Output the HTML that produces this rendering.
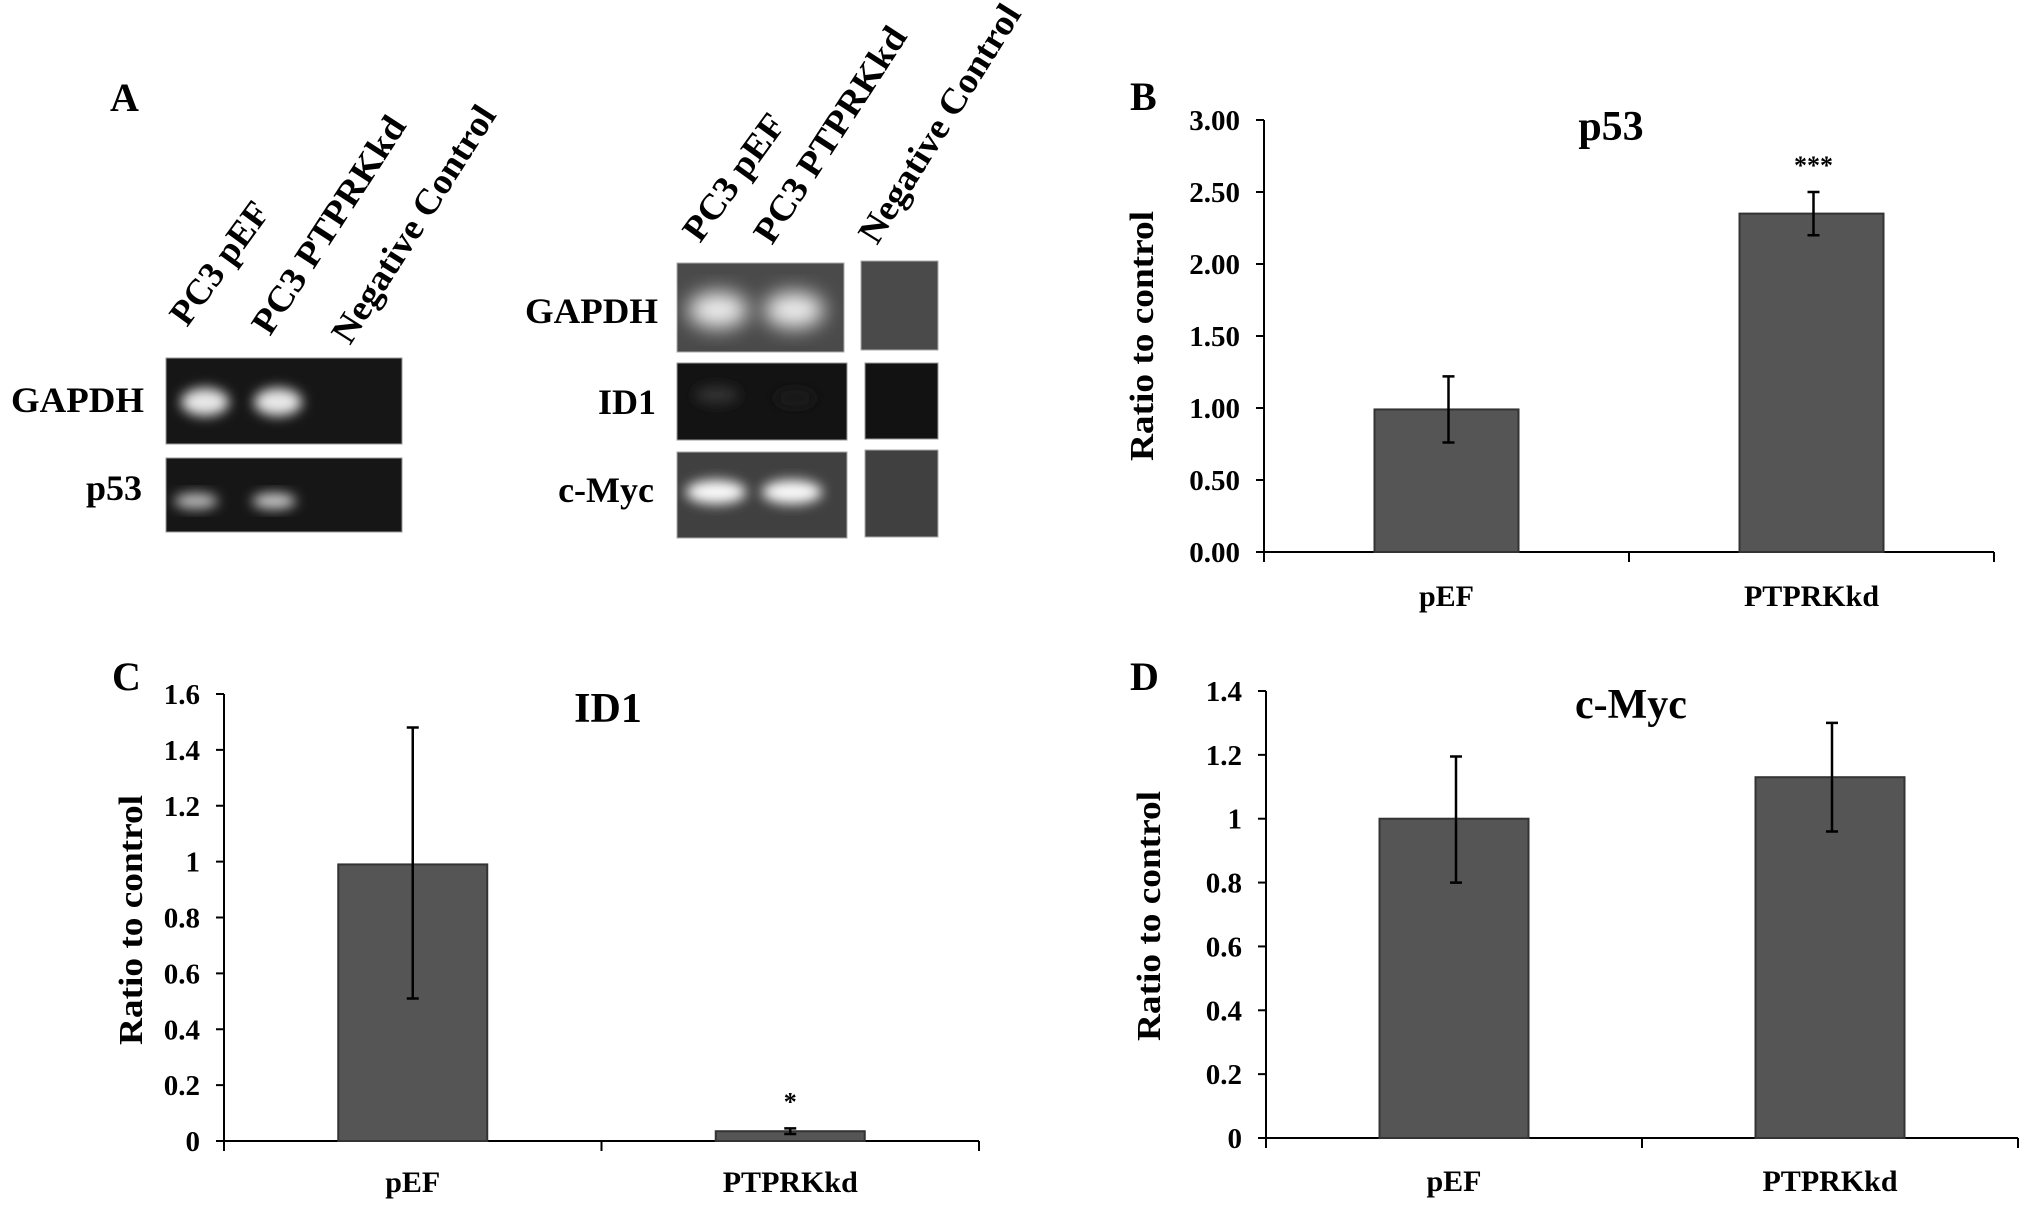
<!DOCTYPE html>
<html><head><meta charset="utf-8">
<style>
html,body{margin:0;padding:0;background:#fff;}
svg{display:block;}
text{font-family:"Liberation Serif",serif;font-weight:bold;fill:#000;}
</style></head>
<body>
<svg id="fig" width="2031" height="1207" viewBox="0 0 2031 1207" xmlns="http://www.w3.org/2000/svg">
<defs>
<filter id="blur" x="-50%" y="-50%" width="200%" height="200%"><feGaussianBlur stdDeviation="6"/></filter>
<filter id="blur2" x="-50%" y="-50%" width="200%" height="200%"><feGaussianBlur stdDeviation="10"/></filter>
</defs>

<!-- Panel A -->
<g>
<text x="110" y="111" font-size="40">A</text>
<text transform="translate(187,328) rotate(-54)" font-size="36" textLength="143" lengthAdjust="spacingAndGlyphs">PC3 pEF</text>
<text transform="translate(270,337) rotate(-57)" font-size="36" textLength="252" lengthAdjust="spacingAndGlyphs">PC3 PTPRKkd</text>
<text transform="translate(350,346) rotate(-57.5)" font-size="36" textLength="274" lengthAdjust="spacingAndGlyphs">Negative Control</text>

<text x="144" y="412" font-size="36" text-anchor="end" textLength="133" lengthAdjust="spacingAndGlyphs">GAPDH</text>
<text x="142" y="500" font-size="36" text-anchor="end">p53</text>

<g>
<rect x="166" y="358" width="236" height="86" fill="#161616" stroke="#999" stroke-width="1"/>
<ellipse cx="205" cy="402" rx="24" ry="14" fill="#e8e8e8" filter="url(#blur)"/>
<ellipse cx="278" cy="402" rx="24" ry="14" fill="#e8e8e8" filter="url(#blur)"/>
</g>
<g>
<rect x="166" y="458" width="236" height="74" fill="#161616" stroke="#999" stroke-width="1"/>
<ellipse cx="196" cy="501" rx="22" ry="8" fill="#bbb" filter="url(#blur)"/>
<ellipse cx="274" cy="501" rx="22" ry="8" fill="#ccc" filter="url(#blur)"/>
</g>

<text transform="translate(700,244) rotate(-54)" font-size="36" textLength="148" lengthAdjust="spacingAndGlyphs">PC3 pEF</text>
<text transform="translate(772,246) rotate(-57)" font-size="36" textLength="250" lengthAdjust="spacingAndGlyphs">PC3 PTPRKkd</text>
<text transform="translate(877,246) rotate(-58)" font-size="36" textLength="274" lengthAdjust="spacingAndGlyphs">Negative Control</text>

<text x="658" y="323" font-size="36" text-anchor="end" textLength="133" lengthAdjust="spacingAndGlyphs">GAPDH</text>
<text x="656" y="414" font-size="36" text-anchor="end">ID1</text>
<text x="654" y="502" font-size="36" text-anchor="end">c-Myc</text>

<g>
<rect x="677" y="263" width="167" height="89" fill="#4a4a4a" stroke="#aaa" stroke-width="1"/>
<ellipse cx="718" cy="310" rx="30" ry="18" fill="#eee" filter="url(#blur2)"/>
<ellipse cx="794" cy="310" rx="30" ry="18" fill="#eee" filter="url(#blur2)"/>
<rect x="861" y="261" width="77" height="89" fill="#4a4a4a" stroke="#aaa" stroke-width="1"/>
</g>
<g>
<rect x="677" y="363" width="170" height="77" fill="#131313" stroke="#999" stroke-width="1"/>
<ellipse cx="717" cy="395" rx="22" ry="9" fill="#333" filter="url(#blur)"/>
<ellipse cx="795" cy="398" rx="20" ry="8" fill="#1f1f1f" filter="url(#blur)"/>
<rect x="865" y="363" width="73" height="76" fill="#121212" stroke="#999" stroke-width="1"/>
</g>
<g>
<rect x="677" y="452" width="170" height="86" fill="#404040" stroke="#aaa" stroke-width="1"/>
<ellipse cx="716" cy="492" rx="30" ry="12" fill="#fafafa" filter="url(#blur)"/>
<ellipse cx="792" cy="492" rx="30" ry="12" fill="#fafafa" filter="url(#blur)"/>
<rect x="865" y="450" width="73" height="87" fill="#404040" stroke="#aaa" stroke-width="1"/>
</g>
</g>

<g id="chartB"></g>
<g id="chartC"></g>
<g id="chartD"></g>
</svg>

<script>
var categories = ["pEF", "PTPRKkd"];

var p53Values = [0.99, 2.35];
var p53ErrLow = [0.76, 2.20];
var p53ErrHigh = [1.22, 2.50];
var p53Ticks = [0, 0.5, 1, 1.5, 2, 2.5, 3];
var p53TickLabels = ["0.00","0.50","1.00","1.50","2.00","2.50","3.00"];
var p53Sig = ["", "***"];

var id1Values = [0.99, 0.035];
var id1ErrLow = [0.51, 0.025];
var id1ErrHigh = [1.48, 0.045];
var id1Ticks = [0, 0.2, 0.4, 0.6, 0.8, 1, 1.2, 1.4, 1.6];
var id1TickLabels = ["0","0.2","0.4","0.6","0.8","1","1.2","1.4","1.6"];
var id1Sig = ["", "*"];

var mycValues = [1.0, 1.13];
var mycErrLow = [0.80, 0.96];
var mycErrHigh = [1.195, 1.30];
var mycTicks = [0, 0.2, 0.4, 0.6, 0.8, 1, 1.2, 1.4];
var mycTickLabels = ["0","0.2","0.4","0.6","0.8","1","1.2","1.4"];
var mycSig = ["", ""];

var NS = "http://www.w3.org/2000/svg";
function mk(tag, attrs, parent){
  var e = document.createElementNS(NS, tag);
  for (var k in attrs) e.setAttribute(k, attrs[k]);
  parent.appendChild(e);
  return e;
}

function drawChart(g, L, vals, lo, hi, ticks, tickLabels, sig, title){
  var yMax = ticks[ticks.length-1];
  function yS(v){ return L.y0 - (v / yMax) * (L.y0 - L.yTop); }
  var bandW = (L.xEnd - L.x0) / categories.length;
  function xC(i){ return L.x0 + bandW * (i + 0.5); }

  var ax = mk('line',{x1:L.x0,y1:L.yTop,x2:L.x0,y2:L.y0,stroke:'#000','stroke-width':2},g);
  
  
  var bx = mk('line',{x1:L.x0,y1:L.y0,x2:L.xEnd,y2:L.y0,stroke:'#000','stroke-width':2},g);
  
  

  for (var t=0;t<ticks.length;t++){
    var y = yS(ticks[t]);
    var tk = mk('line',{x1:L.x0-8,y1:y,x2:L.x0,y2:y,stroke:'#000','stroke-width':2},g);
    
    
    var tl = mk('text',{x:L.x0-24,y:y+10,'font-size':29,'text-anchor':'end'},g);
    tl.textContent = tickLabels[t];
    
    
  }
  for (var c=0;c<=categories.length;c++){
    var xx = L.x0 + bandW*c;
    var xt = mk('line',{x1:xx,y1:L.y0,x2:xx,y2:L.y0+10,stroke:'#000','stroke-width':2},g);
    
    
  }
  for (var i=0;i<categories.length;i++){
    var cx = xC(i);
    var top = yS(vals[i]);
    var bar = mk('rect',{x:cx-L.barW/2,y:top,width:L.barW,height:L.y0-top,fill:'#555',stroke:'#333','stroke-width':2},g);
    
    
    var ecx = cx + L.errOff;
    var eh = yS(hi[i]), el = yS(lo[i]);
    var eb = mk('path',{d:'M'+ecx+','+eh+'V'+el+'M'+(ecx-6)+','+eh+'H'+(ecx+6)+'M'+(ecx-6)+','+el+'H'+(ecx+6),stroke:'#000','stroke-width':2.5,fill:'none'},g);
    
    
    if (sig[i]){
      var s = mk('text',{x:ecx,y:eh-18,'font-size':26,'text-anchor':'middle'},g);
      s.textContent = sig[i];
      
      
    }
    var xl = mk('text',{x:cx,y:L.labelY,'font-size':30,'text-anchor':'middle'},g);
    xl.textContent = categories[i];
    
    
  }
  var tt = mk('text',{x:L.titleX,y:L.titleY,'font-size':42,'text-anchor':'middle'},g);
  tt.textContent = title;
  
  
  var yl = mk('text',{transform:'translate('+L.ylX+','+L.ylY+') rotate(-90)','font-size':34,'text-anchor':'middle',textLength:250,lengthAdjust:'spacingAndGlyphs'},g);
  yl.textContent = 'Ratio to control';
  
  
  var pl = mk('text',{x:L.pX,y:L.pY,'font-size':40},g);
  pl.textContent = L.panel;
  
  
}

drawChart(document.getElementById('chartB'),
  {x0:1264,xEnd:1994,yTop:120,y0:552,barW:144,errOff:2,labelY:606,titleX:1611,titleY:140,ylX:1153,ylY:336,pX:1130,pY:110,panel:'B'},
  p53Values,p53ErrLow,p53ErrHigh,p53Ticks,p53TickLabels,p53Sig,'p53');
drawChart(document.getElementById('chartC'),
  {x0:224,xEnd:979,yTop:694,y0:1141,barW:149,errOff:0,labelY:1192,titleX:608,titleY:722,ylX:142,ylY:920,pX:112,pY:690,panel:'C'},
  id1Values,id1ErrLow,id1ErrHigh,id1Ticks,id1TickLabels,id1Sig,'ID1');
drawChart(document.getElementById('chartD'),
  {x0:1266,xEnd:2018,yTop:691,y0:1138,barW:149,errOff:2,labelY:1191,titleX:1631,titleY:718,ylX:1160,ylY:916,pX:1130,pY:690,panel:'D'},
  mycValues,mycErrLow,mycErrHigh,mycTicks,mycTickLabels,mycSig,'c-Myc');
</script>
</body></html>
